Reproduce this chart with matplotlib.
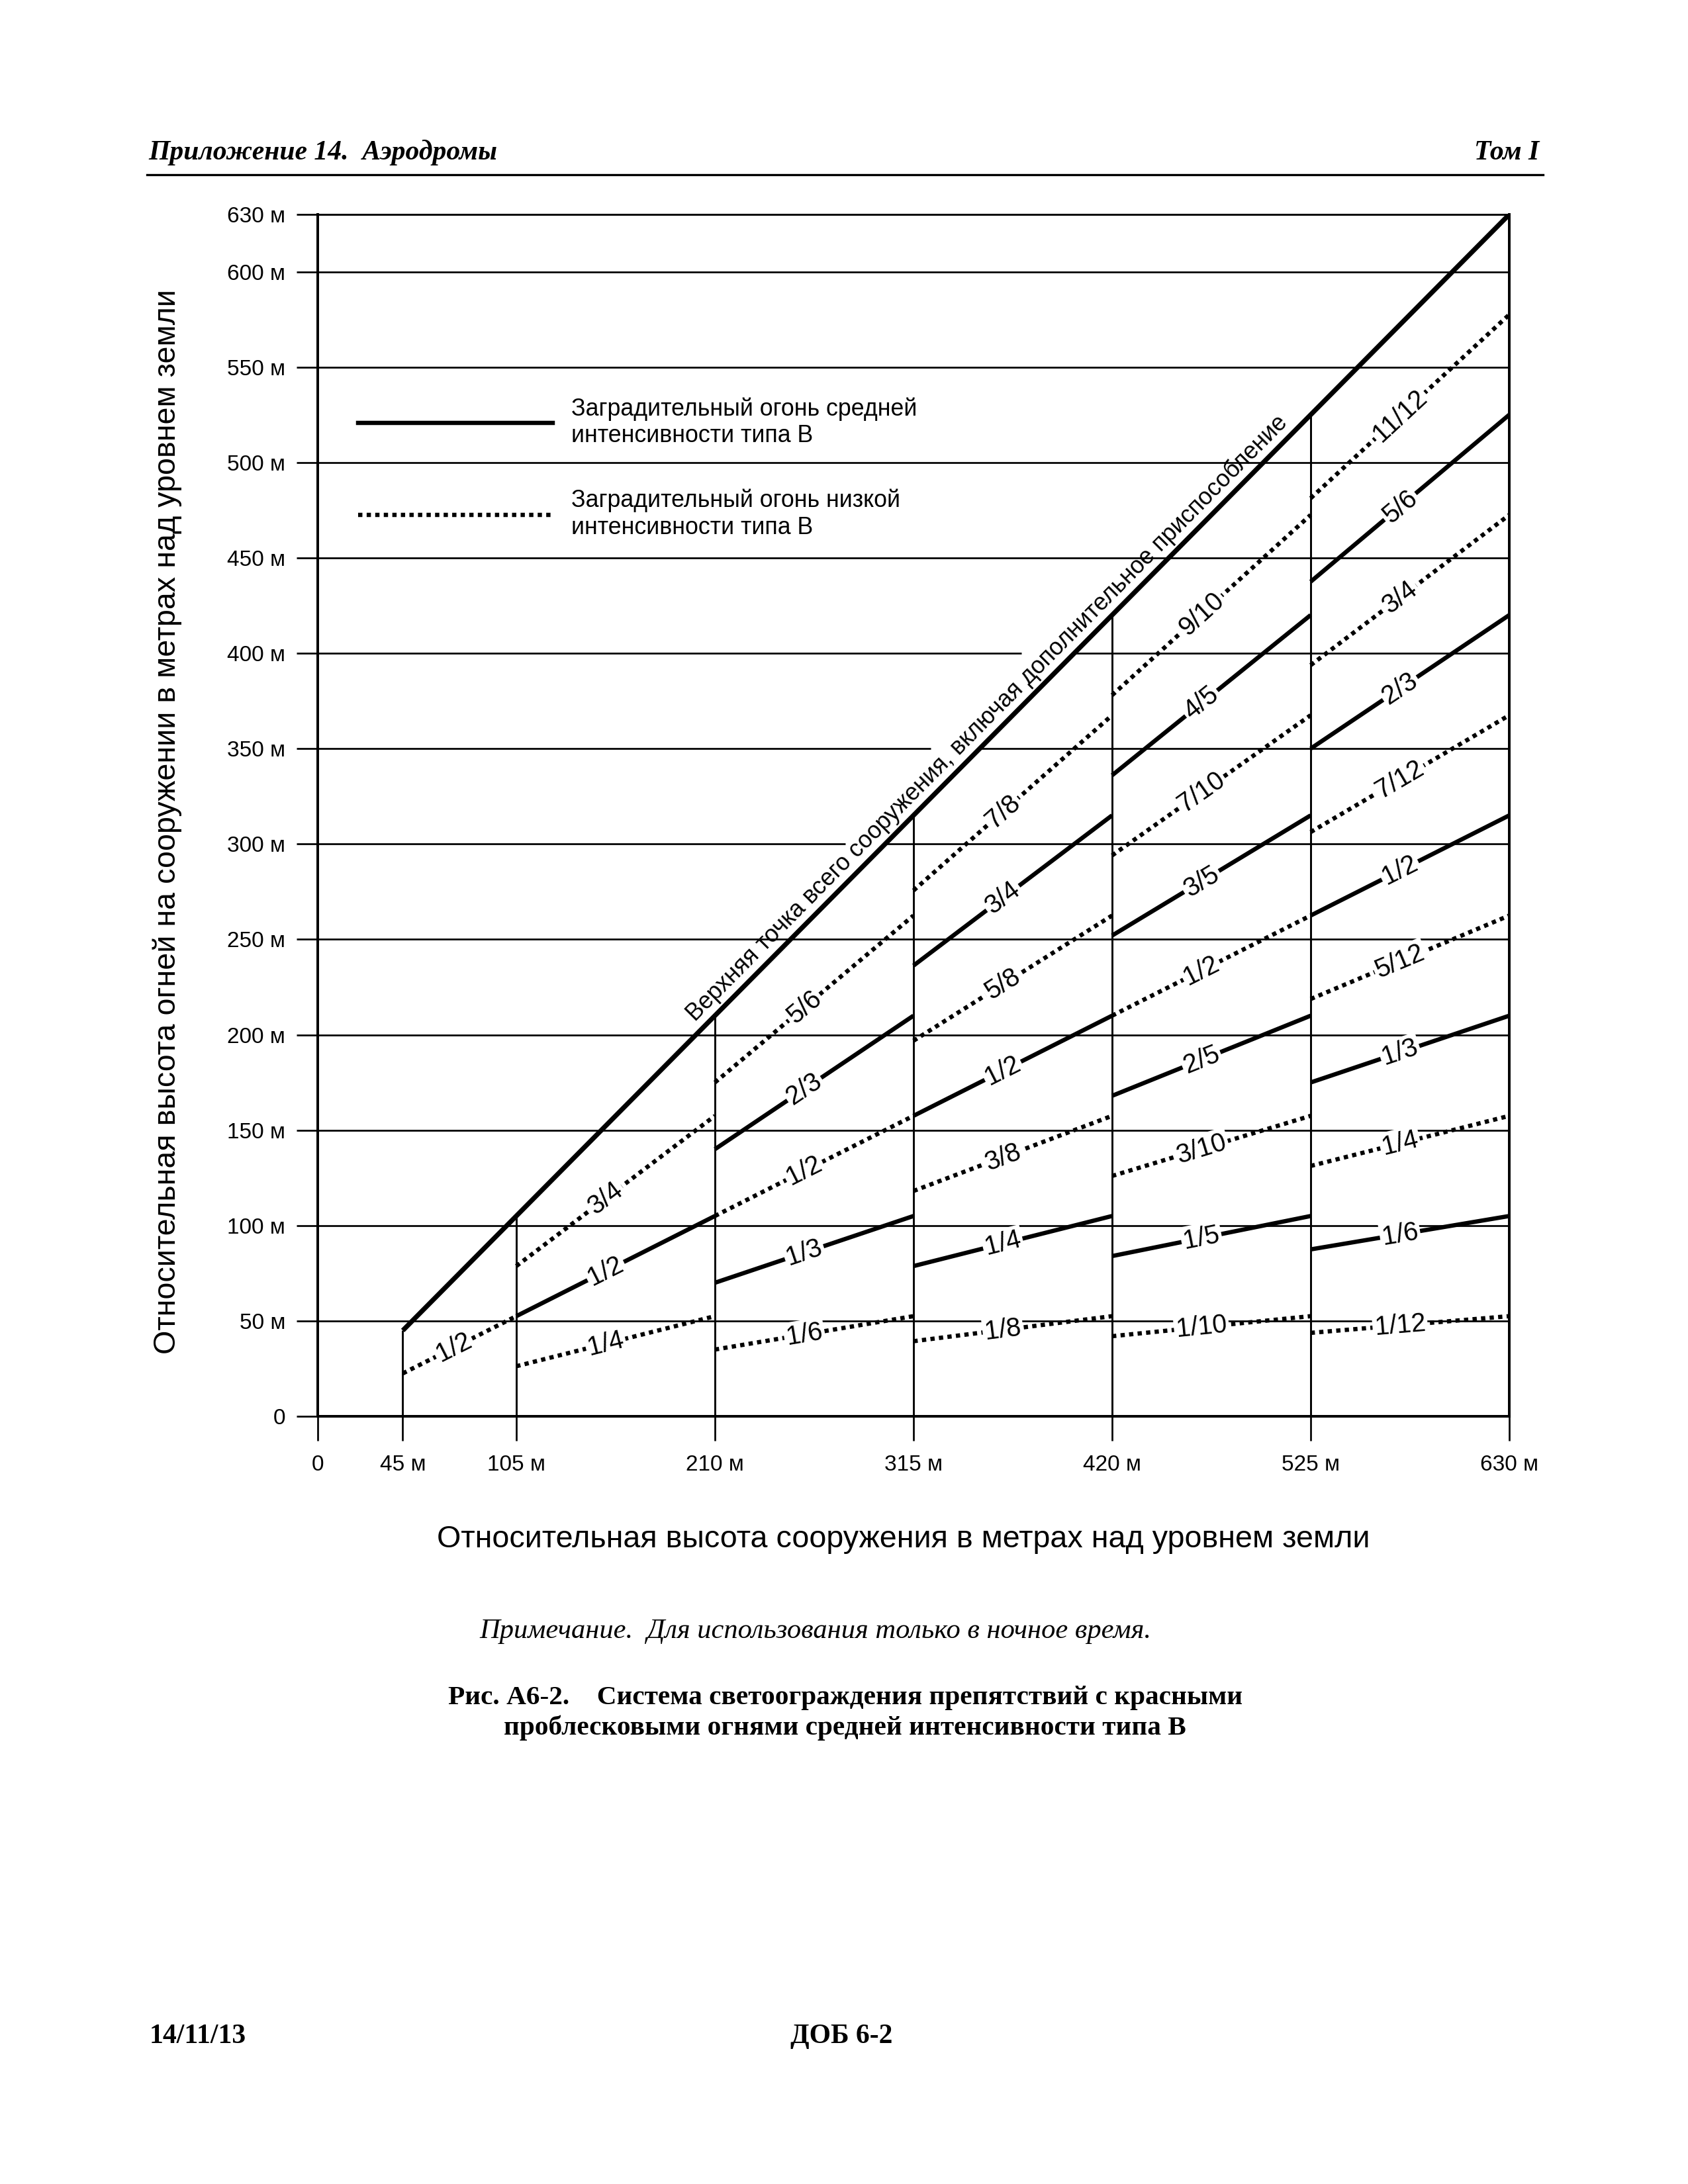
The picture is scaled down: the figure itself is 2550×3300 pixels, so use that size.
import numpy as np
import matplotlib
matplotlib.use("Agg")
import matplotlib.pyplot as plt
from matplotlib.lines import Line2D
from matplotlib import transforms
from fractions import Fraction

# height bands of the structure (m) and the light levels in each band
seg_start = [45, 105, 210, 315, 420, 525]
seg_end = [105, 210, 315, 420, 525, 630]
seg_div = [2, 4, 6, 8, 10, 12]
seg_labels = [
    ["1/2"],
    ["1/4", "1/2", "3/4"],
    ["1/6", "1/3", "1/2", "2/3", "5/6"],
    ["1/8", "1/4", "3/8", "1/2", "5/8", "3/4", "7/8"],
    ["1/10", "1/5", "3/10", "2/5", "1/2", "3/5", "7/10", "4/5", "9/10"],
    ["1/12", "1/6", "1/4", "1/3", "5/12", "1/2", "7/12", "2/3", "3/4", "5/6", "11/12"],
]
top_x = [45, 630]
top_y = [45, 630]

x_ticks = [0, 45, 105, 210, 315, 420, 525, 630]
x_ticklabels = ["0", "45 м", "105 м", "210 м", "315 м", "420 м", "525 м", "630 м"]
y_ticks = [0, 50, 100, 150, 200, 250, 300, 350, 400, 450, 500, 550, 600, 630]
y_ticklabels = ["0"] + [str(v) + " м" for v in y_ticks[1:]]
grid_rows = [50, 100, 150, 200, 250, 300, 350, 400, 450, 500, 550, 600]
cut_rows = [300, 350, 400]
cut_gap = [21, 26, 28]

SANS = "Liberation Sans"
SERIF = "Liberation Serif"
plt.rcParams['font.family'] = SANS

fig = plt.figure(figsize=(8.5, 11), dpi=300)
ax = fig.add_axes([0.1882, 0.3515, 0.8941 - 0.1882, 0.9018 - 0.3515])
ax.set_xlim(0, 630)
ax.set_ylim(0, 630)

for s in ["left", "bottom", "right"]:
    ax.spines[s].set_linewidth(0.95)
ax.spines["top"].set_linewidth(0.7)

ax.set_xticks(x_ticks)
ax.set_xticklabels(x_ticklabels, fontsize=8)
ax.set_yticks(y_ticks)
ax.set_yticklabels(y_ticklabels, fontsize=8)
ax.tick_params(axis="x", direction="out", length=8.9, width=0.65, pad=5)
ax.tick_params(axis="y", direction="out", length=7.7, width=0.65, pad=4)

# grid rows, some stop short of the diagonal caption
for y in grid_rows:
    if y in cut_rows:
        g = cut_gap[cut_rows.index(y)]
        ax.hlines(y, 0, y - g, color="black", lw=0.65, zorder=1)
        ax.hlines(y, y, 630, color="black", lw=0.65, zorder=1)
    else:
        ax.hlines(y, 0, 630, color="black", lw=0.65, zorder=1)

ax.vlines(seg_start, 0, seg_start, color="black", lw=0.7, zorder=1.5)

dot = (0, (1, 1.0))
ax.plot(top_x, top_y, color="black", lw=1.75, zorder=2, solid_capstyle="butt")

for x0, x1, n, labs in zip(seg_start, seg_end, seg_div, seg_labels):
    for lab in labs:
        f = float(Fraction(lab))
        k = round(f * n)
        ls = dot if k % 2 else "-"
        ax.plot([x0, x1], [f * x0, f * x1], color="black", lw=1.55, ls=ls,
                zorder=2, solid_capstyle="butt")
        xl = x0 + 0.45 * (x1 - x0)
        ax.text(xl, f * xl, lab, fontsize=9.5, ha="center", va="center",
                rotation=np.degrees(np.arctan(f)), transform_rotates_text=True,
                rotation_mode="anchor", zorder=3,
                bbox=dict(boxstyle="square,pad=0.08", fc="white", ec="none"))

off = transforms.offset_copy(ax.transData, fig=fig, x=-2.4, y=2.4, units="points")
ax.text(360, 360, "Верхняя точка всего сооружения, включая дополнительное приспособление",
        transform=off, fontsize=8.6, ha="center", va="baseline", rotation=45,
        transform_rotates_text=True, rotation_mode="anchor", zorder=3)

handles = [Line2D([], [], color="black", lw=1.55),
           Line2D([], [], color="black", lw=1.55, ls=dot)]
ax.legend(handles, ["Заградительный огонь средней\nинтенсивности типа B",
                    "Заградительный огонь низкой\nинтенсивности типа B"],
          loc="upper left", bbox_to_anchor=(0.034, 0.848), frameon=False,
          fontsize=8.6, handlelength=8.2, handletextpad=0.78, labelspacing=1.75,
          borderpad=0, borderaxespad=0)

fig.text(0.535, 0.2953, "Относительная высота сооружения в метрах над уровнем земли",
         fontsize=11.2, ha="center", va="center")
fig.text(0.099, 0.6237, "Относительная высота огней на сооружении в метрах над уровнем земли",
         fontsize=11.2, ha="center", va="center", rotation=90)

# page furniture
fig.text(0.088, 0.930, "Приложение 14.  Аэродромы", family=SERIF, style="italic",
         weight="bold", fontsize=10, va="center")
fig.text(0.912, 0.930, "Том I", family=SERIF, style="italic", weight="bold",
         fontsize=10, va="center", ha="right")
fig.add_artist(Line2D([0.087, 0.914], [0.920, 0.920], color="black", lw=0.8,
                      transform=fig.transFigure))
fig.text(0.483, 0.253, "Примечание.  Для использования только в ночное время.",
         family=SERIF, style="italic", fontsize=10.2, ha="center", va="center")
fig.text(0.5007, 0.2227, "Рис. А6-2.    Система светоограждения препятствий с красными",
         family=SERIF, weight="bold", fontsize=9.9, ha="center", va="center")
fig.text(0.5007, 0.209, "проблесковыми огнями средней интенсивности типа B",
         family=SERIF, weight="bold", fontsize=9.9, ha="center", va="center")
fig.text(0.0885, 0.0676, "14/11/13", family=SERIF, weight="bold", fontsize=10, va="center")
fig.text(0.4985, 0.0676, "ДОБ 6-2", family=SERIF, weight="bold", fontsize=10,
         va="center", ha="center")

fig.savefig("out.png", dpi=300)
